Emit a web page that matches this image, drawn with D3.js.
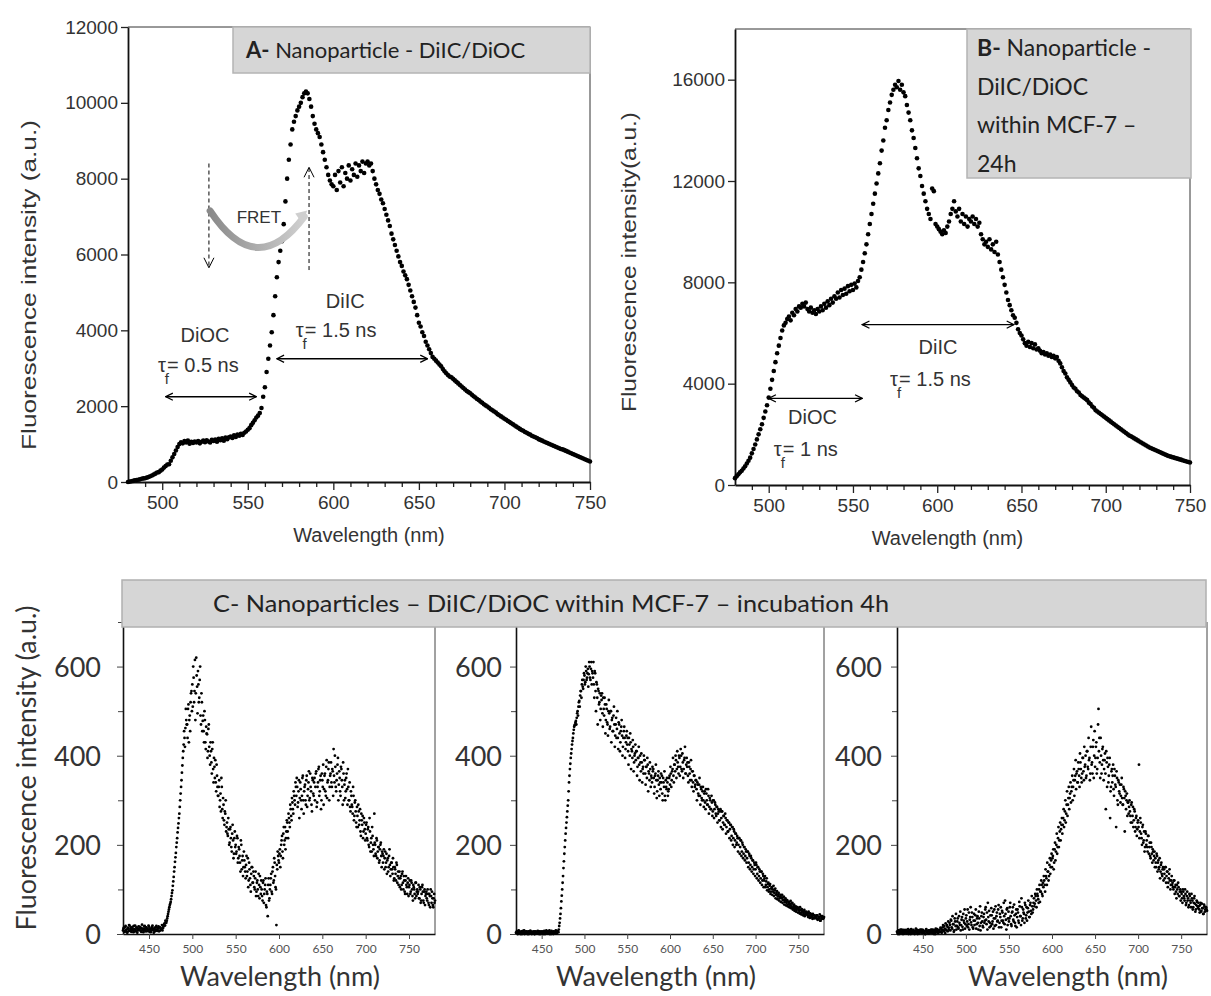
<!DOCTYPE html>
<html><head><meta charset="utf-8">
<script src="https://cdn.jsdelivr.net/npm/d3@7"></script>
<style>body{margin:0;background:#fff}</style>
</head><body>
<svg id="chart" width="1211" height="996" xmlns="http://www.w3.org/2000/svg"></svg>
<script>
// ---------------- DATA ----------------
// Panels A and B: spectra sampled every 1 nm starting at 480 nm
const wlStartAB = 480;
const intensityA = [
0,10,20,30,45,50,60,70,85,95,
100,115,130,150,170,195,220,250,260,300,
330,380,420,460,470,560,650,740,830,920,
1000,1050,1020,1080,1040,1090,1010,1060,1030,1070,
1040,1080,1020,1060,1090,1050,1100,1070,1040,1110,
1080,1120,1060,1140,1100,1150,1090,1170,1130,1180,
1200,1160,1230,1190,1250,1220,1270,1240,1300,1330,
1380,1420,1500,1560,1630,1700,1750,1820,1950,2250,
2500,2900,3250,3600,3950,4400,4900,5400,5800,6100,
6350,6800,7400,8000,8500,8900,9300,9500,9650,9800,
9900,10000,10150,10250,10300,10250,10100,9900,9650,9450,
9300,9200,9100,8900,8700,8500,8300,8100,7950,7850,
7800,8100,7700,8200,7900,8300,7800,8150,8000,8350,
7950,8250,8100,8400,8050,8350,8200,8450,8150,8400,
8450,8350,8400,8200,8000,7850,7700,7600,7450,7350,
7200,7050,6900,6750,6550,6400,6250,6100,5950,5800,
5700,5550,5450,5350,5200,5050,4900,4750,4600,4400,
4200,4100,3950,3850,3700,3600,3500,3400,3300,3250,
3200,3150,3100,3050,2980,2920,2870,2820,2780,2760,
2720,2680,2640,2600,2560,2520,2480,2440,2400,2370,
2340,2300,2260,2230,2190,2160,2120,2090,2050,2020,
1990,1960,1920,1890,1860,1830,1790,1760,1730,1700,
1670,1640,1610,1580,1550,1520,1490,1460,1430,1400,
1370,1350,1320,1300,1270,1250,1220,1200,1180,1160,
1130,1110,1090,1070,1050,1030,1010,990,970,950,
930,910,890,870,860,840,820,800,780,760,
740,720,700,680,660,640,620,600,580,560,
540];
const intensityB = [
270,350,420,500,560,650,740,850,960,1080,
1250,1420,1600,1800,2000,2200,2400,2650,2900,3150,
3450,3800,4150,4500,4850,5200,5500,5800,6100,6300,
6400,6550,6650,6500,6800,6700,6950,6850,7050,7000,
7150,7050,7200,6950,6850,7000,6800,6900,6750,6950,
6850,7050,6900,7150,7000,7250,7100,7350,7200,7450,
7350,7600,7400,7700,7500,7750,7550,7850,7650,7900,
7700,7950,7800,8050,8200,8500,8800,9150,9500,9900,
10300,10700,11100,11500,11900,12300,12700,13200,13600,14100,
14400,14800,15100,15400,15600,15800,15700,15950,15600,15800,
15500,15350,15000,14700,14400,14000,13700,13300,12900,12500,
12200,11800,11500,11200,10900,10700,10500,11700,11600,10300,
10200,10100,10000,9900,10050,9950,10200,10400,10700,10900,
11200,10800,10600,10900,10400,10700,10300,10600,10200,10500,
10400,10600,10300,10500,10200,10350,9900,9700,9500,9600,
9400,9700,9300,9500,9200,9600,9100,8800,8500,8200,
7900,7600,7300,7100,6900,6700,6600,6400,6150,6000,
5900,5750,5600,5500,5650,5450,5600,5400,5550,5350,
5400,5300,5200,5250,5150,5200,5100,5150,5050,5100,
5000,5050,4900,4800,4650,4500,4400,4250,4150,4050,
3950,3850,3800,3700,3650,3550,3500,3450,3400,3350,
3250,3200,3100,3050,2950,2900,2850,2800,2750,2700,
2650,2600,2550,2500,2450,2400,2350,2300,2250,2200,
2150,2100,2050,2000,1950,1920,1880,1840,1800,1760,
1720,1680,1640,1600,1560,1520,1480,1450,1420,1390,
1360,1330,1300,1270,1240,1210,1180,1150,1130,1110,
1090,1070,1050,1030,1010,990,970,950,930,910,
890];
// Panel C: three spectra, read at integer nm (…a) and half nm (…b) from 420 nm
const wlStartC = 420;
const intensityC1a = [
8,14,5,18,10,3,12,20,7,15,
9,16,4,11,19,6,13,8,17,10,
14,5,21,9,12,18,6,15,11,7,
16,10,4,13,19,8,12,6,15,9,
11,17,7,14,10,20,13,18,24,30,
25,35,45,55,65,72,85,98,118,140,
162,182,205,228,248,270,300,330,362,395,
425,440,462,480,470,505,430,490,520,545,
560,600,520,615,540,580,495,560,530,600,
470,520,478,455,500,430,465,448,410,470,
400,430,385,415,370,395,350,340,380,330,
310,345,300,275,330,260,290,245,270,230,
250,220,235,205,240,195,225,210,180,230,
200,185,215,170,190,160,210,145,175,150,
165,140,155,130,170,120,145,110,135,150,
115,130,100,140,95,120,85,110,130,90,
100,75,120,90,110,65,95,40,125,80,
110,135,90,150,120,160,105,20,145,175,
160,190,175,210,185,225,200,240,215,255,
230,270,250,290,265,305,280,320,300,340,
310,330,295,345,305,325,280,350,300,320,
335,290,355,310,340,300,360,320,275,345,
310,350,330,365,295,340,375,320,355,300,
345,380,325,360,310,390,340,370,300,355,
385,330,365,415,340,375,320,360,395,335,
350,310,370,330,385,300,345,320,360,290,
330,300,285,320,290,270,310,265,300,250,
285,240,275,255,230,270,245,215,260,235,
225,250,210,240,195,230,205,185,220,190,
270,200,175,210,185,195,165,200,175,185,
160,190,170,150,180,165,140,175,155,145,
160,135,150,125,145,120,155,130,110,140,
125,100,135,115,130,95,120,110,90,125,
105,120,95,115,85,110,100,80,115,95,
90,110,80,100,75,105,95,70,100,85,
95,75,90,65,85,100,70,80,60,90,
75];
const intensityC1b = [
12,6,16,9,4,14,7,19,11,5,
13,8,18,6,10,15,3,12,9,16,
7,13,10,4,17,9,14,6,11,19,
5,12,8,16,10,3,14,9,18,7,
13,6,15,9,12,8,16,22,19,28,
30,40,50,60,68,78,92,108,128,150,
172,195,215,238,260,285,315,345,378,410,
455,420,505,470,440,515,480,455,540,500,
510,575,545,480,620,555,590,520,570,490,
540,455,490,430,480,415,450,395,460,420,
380,410,360,430,340,375,390,320,355,310,
330,285,315,350,280,305,255,275,300,240,
225,260,200,235,215,185,245,170,215,195,
180,220,160,195,175,140,200,165,130,185,
150,125,175,140,105,160,125,95,150,115,
140,105,125,85,115,100,135,80,105,120,
85,115,70,100,125,60,90,110,75,100,
125,95,140,115,170,130,100,155,185,165,
180,150,200,220,170,240,210,190,230,250,
215,260,240,280,255,295,270,310,290,330,
350,285,320,260,340,300,310,355,270,330,
300,345,285,325,365,305,330,290,350,315,
340,300,360,285,330,370,310,345,280,360,
330,290,355,320,375,305,345,385,330,360,
340,370,310,355,400,330,345,380,300,365,
320,375,345,290,360,335,305,350,325,370,
300,340,275,310,285,330,255,295,275,240,
265,290,245,280,220,255,265,230,250,210,
245,215,235,200,260,185,215,240,200,175,
205,180,215,170,195,160,190,205,150,180,
175,145,185,160,135,170,150,190,130,160,
145,170,120,150,135,160,115,140,125,105,
130,110,140,100,120,90,130,105,115,85,
110,90,120,100,75,105,90,115,85,100,
95,80,105,70,90,110,75,95,65,90,
80,100,70,90,60,85,95,65,80,70];
const intensityC2a = [
3,6,0,8,4,2,5,0,7,3,
0,4,6,2,5,0,3,7,1,4,
2,6,0,3,5,1,4,0,6,2,
5,1,3,7,0,4,2,6,1,8,
3,0,5,2,6,4,1,7,3,5,
10,25,45,73,100,130,163,195,225,250,
275,300,340,370,395,415,433,450,465,470,
478,485,500,510,523,535,545,560,555,570,
580,565,590,575,595,583,600,570,610,590,
575,560,590,545,565,530,550,515,540,505,
525,495,530,490,515,480,505,470,500,495,
465,500,480,455,490,470,445,485,460,440,
475,450,430,465,445,420,455,440,415,445,
425,410,440,400,430,415,395,420,385,405,
390,410,375,395,380,400,365,385,370,360,
390,360,375,350,380,365,345,370,355,340,
365,350,330,360,345,320,355,335,350,325,
340,315,350,330,310,345,325,340,320,350,
335,360,345,370,355,380,365,390,370,385,
360,395,375,400,365,385,370,395,360,380,
375,355,385,360,370,345,365,340,355,330,
345,325,340,315,335,310,330,305,320,300,
315,295,325,300,290,310,285,300,280,295,
275,300,280,290,265,285,270,275,255,280,
260,275,250,265,245,260,240,255,230,250,
235,245,220,240,215,230,210,225,205,215,
200,215,195,210,185,200,180,195,175,185,
170,185,160,175,155,170,150,165,145,155,
145,155,135,150,130,140,125,140,120,130,
120,130,110,125,105,115,100,112,95,105,
100,108,92,102,88,96,84,92,80,88,
82,88,76,84,72,80,70,76,66,72,
68,74,62,70,58,66,56,62,54,60,
58,52,60,48,56,50,46,54,44,50,
48,42,50,40,46,44,38,45,36,42,
40,35,42,33,38,44,30,36,40,34,
38];
const intensityC2b = [
2,5,1,7,3,0,6,2,4,8,
1,5,3,0,6,2,7,4,0,5,
3,0,6,4,1,7,2,5,0,3,
6,2,0,5,3,8,1,4,6,0,
4,7,2,0,5,3,8,1,6,4,
18,35,58,86,115,148,180,210,238,262,
288,320,355,382,405,425,440,458,468,475,
470,495,490,520,510,545,530,570,550,585,
560,600,570,585,555,610,575,595,560,585,
610,530,585,500,560,470,545,520,480,535,
540,465,505,530,450,515,475,445,525,460,
500,430,485,455,510,420,470,440,500,415,
470,410,455,480,400,440,465,395,430,455,
440,380,425,450,370,410,435,365,400,425,
410,355,395,420,345,385,405,340,375,400,
390,335,375,395,320,360,385,330,350,375,
370,315,355,380,305,345,365,310,340,360,
355,300,340,365,300,330,350,310,325,355,
375,330,365,395,340,380,400,350,410,375,
400,355,415,370,405,350,390,420,360,395,
385,340,375,345,390,330,365,320,355,335,
345,300,335,310,350,290,325,300,330,285,
320,280,315,290,325,270,305,280,310,265,
300,260,295,270,285,250,280,255,275,240,
275,235,265,245,270,225,255,230,250,215,
245,210,240,200,235,195,225,200,220,185,
215,180,210,175,205,170,195,165,190,160,
185,150,180,145,175,140,165,135,160,130,
160,125,150,120,145,115,140,110,135,105,
125,105,118,98,112,95,108,90,102,88,
95,85,98,80,92,78,88,75,84,72,
80,70,82,66,76,64,74,62,70,60,
65,58,68,55,63,52,60,50,58,48,
55,46,54,44,52,42,50,40,48,44,
45,38,46,36,44,40,34,42,35,40,
37,42,32,38,35,30,40,34,38,36];
const intensityC3a = [
5,0,8,3,10,2,6,0,9,4,
7,1,5,11,3,8,0,6,4,9,
2,7,12,4,0,8,5,10,3,6,
9,2,6,0,11,4,7,1,8,5,
3,10,6,0,8,12,4,7,2,9,
5,12,3,15,8,18,2,10,20,6,
14,25,8,30,12,22,5,35,18,10,
28,15,40,20,8,32,16,45,25,12,
35,18,55,22,10,38,26,48,15,30,
20,42,12,35,25,50,18,8,40,28,
15,45,30,60,22,10,38,52,25,18,
42,28,12,55,35,20,48,30,65,25,
38,15,52,30,70,22,45,10,58,35,
28,60,40,18,50,32,66,25,45,15,
55,30,72,40,20,60,35,48,25,65,
42,30,58,50,38,70,45,62,55,80,
68,85,60,90,78,100,72,95,110,85,
105,120,95,130,110,140,120,155,135,165,
150,175,145,190,165,200,180,215,195,230,
210,245,225,260,240,275,250,290,265,305,
280,315,295,330,300,345,310,355,325,365,
340,370,330,385,350,360,395,345,375,400,
355,410,370,390,345,420,380,360,435,400,
375,420,360,395,505,440,350,400,380,420,
345,390,360,410,330,375,355,395,320,365,
340,380,310,355,330,365,300,345,320,335,
310,350,290,330,305,320,280,315,295,270,
300,265,290,250,285,255,275,240,265,235,
255,380,230,250,215,240,205,230,195,225,
210,185,220,195,175,205,180,190,165,185,
170,150,175,160,145,170,140,160,130,150,
145,125,150,130,140,115,135,120,110,130,
115,100,120,105,95,110,90,105,85,100,
95,80,100,85,75,90,70,95,80,65,
85,70,90,75,60,80,68,55,75,62,
70,55,65,50,68,58,45,62,55,60,
52];
const intensityC3b = [
3,8,0,6,2,10,4,7,1,5,
9,3,6,0,8,4,11,2,7,5,
0,6,3,9,5,1,8,4,10,2,
7,4,0,9,5,2,8,6,3,10,
6,2,9,4,0,7,11,3,8,5,
14,4,9,20,6,12,24,8,16,28,
10,20,32,15,40,22,8,28,45,18,
35,12,25,50,20,38,10,30,55,22,
42,28,15,48,32,60,20,38,12,45,
30,55,22,40,10,35,62,25,48,18,
38,25,55,32,48,70,28,15,42,58,
22,50,35,18,62,40,28,55,15,45,
60,30,48,25,40,75,32,55,20,50,
35,70,22,48,60,28,42,18,55,38,
48,25,62,40,80,30,55,45,70,35,
60,48,75,38,65,52,85,48,70,62,
90,75,100,85,70,110,95,120,90,115,
130,110,145,125,160,140,130,170,150,180,
170,190,160,205,185,225,195,240,210,250,
235,260,245,280,255,300,270,320,290,330,
305,340,320,355,330,370,345,390,360,340,
385,355,405,370,340,395,365,420,380,350,
410,375,440,395,360,465,385,420,350,455,
395,430,370,470,410,385,440,360,415,390,
370,405,280,385,395,340,380,260,330,370,
355,325,370,335,240,350,290,340,315,295,
335,305,290,325,230,310,300,265,295,285,
275,250,295,265,240,280,230,260,220,250,
240,215,260,225,200,245,210,185,230,200,
195,220,180,205,170,195,160,185,175,150,
160,180,140,165,150,125,155,135,145,120,
135,150,115,140,105,125,145,100,120,110,
105,120,90,110,80,100,115,85,95,75,
90,70,95,80,100,65,85,75,60,90,
75,60,80,55,70,85,50,65,72,58,
62,48,70,52,58,45,66,50,60,55];

// Tick values and labels
const ticksAB_x = [500,550,600,650,700,750];
const minorAB_x = [490,510,520,530,540,560,570,580,590,610,620,630,640,660,670,680,690,710,720,730,740];
const ticksA_y = [0,2000,4000,6000,8000,10000,12000];
const ticksB_y = [0,4000,8000,12000,16000];
const ticksC_x = [450,500,550,600,650,700,750];
const ticksC_y = [0,200,400,600];
const minorC_y = [100,300,500,700];

const titleA = ["A-", " Nanoparticle - DiIC/DiOC"];
const titleB = [["B-", " Nanoparticle -"], ["", "DiIC/DiOC"], ["", "within MCF-7 \u2013"], ["", "24h"]];
const titleC = "C- Nanoparticles \u2013 DiIC/DiOC within MCF-7 \u2013 incubation 4h";

// ---------------- DRAW ----------------
const svg = d3.select("#chart");
const ARIAL = "'Liberation Sans', Arial, sans-serif";
const CAL = "Lato, 'Open Sans', sans-serif";
const fmt = d3.format("d");

svg.append("rect").attr("width",1211).attr("height",996).attr("fill","#fff");

function drawAB(o){
  const g = svg.append("g");
  const x = d3.scaleLinear().domain([480,750]).range([o.x0,o.x1]);
  const y = d3.scaleLinear().domain([0,o.ymax]).range([o.y0,o.y1]);
  g.append("line").attr("x1",o.x0).attr("x2",o.x1).attr("y1",o.y1).attr("y2",o.y1).attr("stroke","#333").attr("stroke-width",1);
  g.append("line").attr("x1",o.x1).attr("x2",o.x1).attr("y1",o.y1).attr("y2",o.y0).attr("stroke","#333").attr("stroke-width",1);
  const gm = g.append("g").attr("transform",`translate(0,${o.y0})`)
    .call(d3.axisBottom(x).tickValues(minorAB_x).tickSize(5).tickFormat(""));
  gm.select(".domain").remove();
  const gx = g.append("g").attr("transform",`translate(0,${o.y0})`)
    .call(d3.axisBottom(x).tickValues(ticksAB_x).tickSize(8).tickSizeOuter(0).tickPadding(6).tickFormat(fmt));
  const gy = g.append("g").attr("transform",`translate(${o.x0},0)`)
    .call(d3.axisLeft(y).tickValues(o.yticks).tickSize(7).tickSizeOuter(0).tickPadding(3).tickFormat(fmt));
  [gm,gx,gy].forEach(a=>{a.selectAll("line").attr("stroke","#222").attr("stroke-width",1.3);
    a.select(".domain").attr("stroke","#111").attr("stroke-width",1.8);
    a.selectAll("text").attr("font-family",ARIAL).attr("font-size",19).attr("fill","#333");});
  g.append("g").selectAll("circle").data(o.data).join("circle")
    .attr("cx",(d,i)=>x(wlStartAB+i)).attr("cy",d=>y(d)).attr("r",2.3).attr("fill","#000");
  g.append("text").attr("x",(o.x0+o.x1)/2+o.xlabDx).attr("y",o.y0+60).attr("text-anchor","middle")
    .attr("font-family",ARIAL).attr("font-size",20).attr("fill","#333").text("Wavelength (nm)");
  g.append("text").attr("transform",`translate(${o.ylabX},${o.ylabY}) rotate(-90)`).attr("text-anchor","middle")
    .attr("font-family",ARIAL).attr("font-size",20).attr("fill","#333")
    .attr("textLength",o.ylabLen).attr("lengthAdjust","spacingAndGlyphs").text(o.ylab);
  return {g,x,y};
}

const A = drawAB({x0:128,x1:590,y0:482,y1:27,ymax:12000,yticks:ticksA_y,data:intensityA,
  ylab:"Fluorescence intensity (a.u.)",ylabX:36,ylabY:285,ylabLen:330,xlabDx:10});
const B = drawAB({x0:735,x1:1190,y0:485,y1:29,ymax:18000,yticks:ticksB_y,data:intensityB,
  ylab:"Fluorescence intensity(a.u.)",ylabX:636,ylabY:262,ylabLen:300,xlabDx:-15});

function tbox(x,y,w,h){
  svg.append("rect").attr("x",x).attr("y",y).attr("width",w).attr("height",h)
    .attr("fill","#d6d6d6").attr("stroke","#b4b4b4").attr("stroke-width",1.5);
}
tbox(233,27,357,46);
{
  const t = svg.append("text").attr("x",246).attr("y",58).attr("font-family",CAL).attr("font-size",22).attr("fill","#222");
  t.append("tspan").attr("font-weight","bold").text(titleA[0]);
  t.append("tspan").text(titleA[1]);
}
tbox(967,29,224,149);
titleB.forEach((ln,i)=>{
  const t = svg.append("text").attr("x",977).attr("y",56+i*38.5).attr("font-family",CAL).attr("font-size",23).attr("fill","#222");
  if(ln[0]) t.append("tspan").attr("font-weight","bold").text(ln[0]);
  t.append("tspan").text(ln[1]);
});

const defs = svg.append("defs");
defs.append("marker").attr("id","chev").attr("viewBox","0 0 10 10").attr("refX",9).attr("refY",5)
  .attr("markerWidth",9).attr("markerHeight",9).attr("markerUnits","userSpaceOnUse").attr("orient","auto-start-reverse")
  .append("path").attr("d","M1,1 L9,5 L1,9").attr("fill","none").attr("stroke","#000").attr("stroke-width",1.4);
defs.append("marker").attr("id","vchev").attr("viewBox","0 0 12 12").attr("refX",11).attr("refY",6)
  .attr("markerWidth",12).attr("markerHeight",12).attr("markerUnits","userSpaceOnUse").attr("orient","auto")
  .append("path").attr("d","M1,1 L11,6 L1,11").attr("fill","none").attr("stroke","#000").attr("stroke-width",1);
const grad = defs.append("linearGradient").attr("id","fretg").attr("x1","0").attr("x2","1").attr("y1","0").attr("y2","0");
grad.append("stop").attr("offset","0").attr("stop-color","#8a8a8a");
grad.append("stop").attr("offset","1").attr("stop-color","#d0d0d0");

function dbl(P,w1,w2,v){
  svg.append("line").attr("x1",P.x(w1)).attr("x2",P.x(w2)).attr("y1",P.y(v)).attr("y2",P.y(v))
    .attr("stroke","#000").attr("stroke-width",1.4)
    .attr("marker-start","url(#chev)").attr("marker-end","url(#chev)");
}
function label(P,w,v,txt){
  svg.append("text").attr("x",P.x(w)).attr("y",P.y(v)).attr("text-anchor","middle")
    .attr("font-family",ARIAL).attr("font-size",20).attr("fill","#333").text(txt);
}
function tau(P,w,v,rest){
  const t = svg.append("text").attr("x",P.x(w)).attr("y",P.y(v)).attr("font-family",ARIAL).attr("font-size",20).attr("fill","#333");
  t.append("tspan").text("\u03c4");
  t.append("tspan").attr("dy",12).attr("dx",-1).attr("font-size",15).text("f");
  t.append("tspan").attr("dy",-12).attr("dx",-2).text(rest);
}

// Panel A annotations
dbl(A,502,555,2250);
dbl(A,567,655,3250);
label(A,525,3700,"DiOC");
tau(A,497.5,2900,"= 0.5 ns");
label(A,607,4600,"DiIC");
tau(A,578,3830,"= 1.5 ns");
svg.append("line").attr("x1",A.x(527.3)).attr("x2",A.x(527.3)).attr("y1",A.y(8400)).attr("y2",A.y(5650))
  .attr("stroke","#000").attr("stroke-width",1).attr("stroke-dasharray","4,3").attr("marker-end","url(#vchev)");
svg.append("line").attr("x1",A.x(585.8)).attr("x2",A.x(585.8)).attr("y1",A.y(5590)).attr("y2",A.y(8300))
  .attr("stroke","#000").attr("stroke-width",1).attr("stroke-dasharray","4,3").attr("marker-end","url(#vchev)");
{
  const p0=[A.x(528),A.y(7150)], pc=[A.x(555),A.y(5300)], p1=[A.x(583),A.y(7000)];
  svg.append("path").attr("d",`M${p0[0]},${p0[1]} Q${pc[0]},${pc[1]} ${p1[0]},${p1[1]}`)
    .attr("fill","none").attr("stroke","url(#fretg)").attr("stroke-width",7).attr("stroke-linecap","round");
  svg.append("path").attr("d",`M${p1[0]-9},${p1[1]-3} L${p1[0]+3},${p1[1]-6} L${p1[0]-2},${p1[1]+7} Z`)
    .attr("fill","#cfcfcf");
  svg.append("text").attr("x",A.x(556.5)).attr("y",A.y(6820)).attr("text-anchor","middle")
    .attr("font-family",ARIAL).attr("font-size",17).attr("fill","#333").text("FRET");
}

// Panel B annotations
dbl(B,555.5,645.5,6330);
dbl(B,500,555.5,3420);
label(B,600.5,5180,"DiIC");
tau(B,572,3900,"= 1.5 ns");
label(B,526,2400,"DiOC");
tau(B,503,1130,"= 1 ns");

// ---------------- Panel C ----------------
const cPanels = [
  {x0:123,x1:435,a:intensityC1a,b:intensityC1b,labPad:16,xlab:280},
  {x0:516,x1:824,a:intensityC2a,b:intensityC2b,labPad:8,xlab:656},
  {x0:897,x1:1207,a:intensityC3a,b:intensityC3b,labPad:9,xlab:1068}
];
const cy0 = 934, cy1 = 622;
cPanels.forEach(p=>{
  const g = svg.append("g");
  const x = d3.scaleLinear().domain([420,780]).range([p.x0,p.x1]);
  const y = d3.scaleLinear().domain([0,700]).range([cy0,cy1]);
  g.append("line").attr("x1",p.x1).attr("x2",p.x1).attr("y1",cy1).attr("y2",cy0).attr("stroke","#444").attr("stroke-width",1);
  const gx = g.append("g").attr("transform",`translate(0,${cy0})`)
    .call(d3.axisBottom(x).tickValues(ticksC_x).tickSize(5).tickSizeOuter(0).tickPadding(5));
  const gym = g.append("g").attr("transform",`translate(${p.x0},0)`)
    .call(d3.axisLeft(y).tickValues(minorC_y).tickSize(5).tickFormat(""));
  gym.select(".domain").remove();
  const gy = g.append("g").attr("transform",`translate(${p.x0},0)`)
    .call(d3.axisLeft(y).tickValues(ticksC_y).tickSize(6).tickSizeOuter(0).tickPadding(p.labPad));
  [gx,gy,gym].forEach(a=>{a.selectAll("line").attr("stroke","#444").attr("stroke-width",1);
    a.select(".domain").attr("stroke","#111").attr("stroke-width",1.6);});
  gx.selectAll("text").attr("font-family",CAL).attr("font-size",12).attr("fill","#555");
  gy.selectAll("text").attr("font-family",CAL).attr("font-size",27).attr("fill","#333").attr("dy","0.36em");
  const dots = g.append("g");
  dots.selectAll("circle.a").data(p.a).join("circle").attr("class","a")
    .attr("cx",(d,i)=>x(wlStartC+i)).attr("cy",d=>y(d)).attr("r",1.4).attr("fill","#000");
  dots.selectAll("circle.b").data(p.b).join("circle").attr("class","b")
    .attr("cx",(d,i)=>x(wlStartC+0.5+i)).attr("cy",d=>y(d)).attr("r",1.4).attr("fill","#000");
  g.append("text").attr("x",p.xlab).attr("y",986).attr("text-anchor","middle")
    .attr("font-family",CAL).attr("font-size",27).attr("fill","#333").text("Wavelength (nm)");
});
svg.append("rect").attr("x",122).attr("y",580).attr("width",1084).attr("height",47)
  .attr("fill","#d6d6d6").attr("stroke","#b0b0b0").attr("stroke-width",1.5);
svg.append("text").attr("x",213).attr("y",612).attr("font-family",CAL).attr("font-size",24).attr("fill","#222")
  .attr("textLength",676).attr("lengthAdjust","spacingAndGlyphs").text(titleC);
svg.append("text").attr("transform","translate(36,768) rotate(-90)").attr("text-anchor","middle")
  .attr("font-family",CAL).attr("font-size",26).attr("fill","#333")
  .attr("textLength",325).attr("lengthAdjust","spacingAndGlyphs").text("Fluorescence intensity (a.u.)");
</script>
</body></html>
